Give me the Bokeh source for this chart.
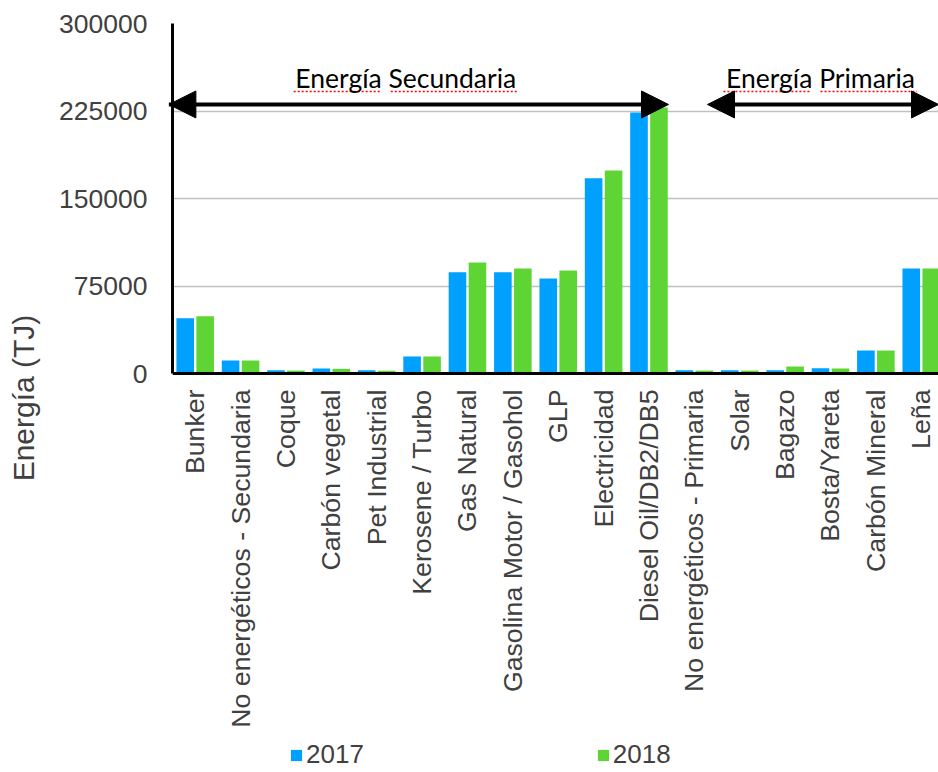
import numpy as np
from bokeh.plotting import figure
from bokeh.models import (ColumnDataSource, Range1d, FixedTicker, BasicTickFormatter,
                          Legend, LegendItem, Arrow, NormalHead, Label)
from bokeh.embed import file_html
from bokeh.resources import INLINE

categories = ["Bunker", "No energéticos - Secundaria", "Coque", "Carbón vegetal",
              "Pet Industrial", "Kerosene / Turbo", "Gas Natural",
              "Gasolina Motor / Gasohol", "GLP", "Electricidad", "Diesel Oil/DB2/DB5",
              "No energéticos - Primaria", "Solar", "Bagazo", "Bosta/Yareta",
              "Carbón Mineral", "Leña"]
v2017 = [47400, 11100, 2800, 4300, 2800, 14600, 86800, 86800, 81400, 167400, 223700,
         2800, 2800, 2800, 4500, 19700, 90000]
v2018 = [49100, 11100, 2500, 4000, 2400, 14600, 95100, 90000, 88300, 174000, 228000,
         2500, 2500, 6000, 4300, 19700, 90000]
y_ticks = [0, 75000, 150000, 225000, 300000]
series_names = ["2017", "2018"]
group_labels = ["Energía Secundaria", "Energía Primaria"]

BLUE = "#00A1FE"
GREEN = "#5FD535"
TXT = "#404040"

idx = np.arange(len(categories))
src = ColumnDataSource(dict(x17=idx - 0.22, x18=idx + 0.22, v17=v2017, v18=v2018))

# frame runs down to the window bottom; value 0 sits at 350 px below the top of the scale
p = figure(width=938, height=772, output_backend="svg", toolbar_location=None,
           x_range=Range1d(-0.5, 16.38), y_range=Range1d(-342000, 300000),
           min_border_left=172, min_border_top=23, min_border_right=0, min_border_bottom=0)
p.outline_line_color = None
p.background_fill_color = "white"

r17 = p.vbar(x="x17", top="v17", width=0.388, source=src, fill_color=BLUE, line_color=None)
r18 = p.vbar(x="x18", top="v18", width=0.388, source=src, fill_color=GREEN, line_color=None)

# x axis drawn at value 0
p.xaxis.fixed_location = 0
p.xaxis.ticker = FixedTicker(ticks=list(range(len(categories))))
p.xaxis.major_label_overrides = {i: c for i, c in enumerate(categories)}
p.xaxis.major_label_orientation = np.pi / 2
p.xaxis.major_label_text_font = "Liberation Sans"
p.xaxis.major_label_text_font_size = "26.7px"
p.xaxis.major_label_text_color = TXT
p.xaxis.major_label_standoff = 16
p.xaxis.major_tick_line_color = None
p.xaxis.major_tick_out = 0
p.xaxis.major_tick_in = 0
p.xaxis.minor_tick_line_color = None
p.xaxis.axis_line_color = "black"
p.xaxis.axis_line_width = 3

p.yaxis.bounds = (0, 300000)
p.yaxis.ticker = FixedTicker(ticks=y_ticks)
p.yaxis.formatter = BasicTickFormatter(use_scientific=False)
p.yaxis.major_label_text_font = "Liberation Sans"
p.yaxis.major_label_text_font_size = "26.5px"
p.yaxis.major_label_text_color = TXT
p.yaxis.major_label_standoff = 19
p.yaxis.major_tick_line_color = None
p.yaxis.minor_tick_line_color = None
p.yaxis.axis_line_color = "black"
p.yaxis.axis_line_width = 3
p.yaxis.axis_label = "Energía (TJ)"
p.yaxis.axis_label_text_font = "Liberation Sans"
p.yaxis.axis_label_text_font_size = "30px"
p.yaxis.axis_label_text_font_style = "normal"
p.yaxis.axis_label_text_color = TXT
p.yaxis.axis_label_standoff = 16

p.xgrid.grid_line_color = None
p.ygrid.grid_line_color = "#C0C0C0"
p.ygrid.grid_line_width = 1.5
p.ygrid.ticker = FixedTicker(ticks=y_ticks)

# group arrows
arrow_y = 230600
for xs, xe in [(-0.58, 10.43), (11.29, 16.38)]:
    p.add_layout(Arrow(x_start=xs, y_start=arrow_y, x_end=xe, y_end=arrow_y,
                       line_color="black", line_width=4,
                       start=NormalHead(size=27, fill_color="black", line_color="black"),
                       end=NormalHead(size=27, fill_color="black", line_color="black")))

for lab, xc in zip(group_labels, [4.64, 13.78]):
    p.add_layout(Label(x=xc, y=253700, text=lab, text_align="center", text_baseline="middle",
                       text_font="Lato", text_font_size="26.5px", text_color="black"))
# spell-check style underlines
for x0, x1 in [(2.17, 4.09), (4.31, 7.10), (11.64, 13.56), (13.78, 15.91)]:
    p.line([x0, x1], [241700, 241700], line_color="red", line_width=1.5, line_dash="2 2")

legend = Legend(items=[LegendItem(label=series_names[0], renderers=[r17]),
                       LegendItem(label=series_names[1], renderers=[r18])],
                orientation="horizontal", spacing=232, glyph_width=14, glyph_height=14,
                label_standoff=3, label_text_font="Liberation Sans",
                label_text_font_size="26px", label_height=26, label_text_color=TXT,
                padding=0, margin=0, border_line_color=None, background_fill_alpha=0,
                location=(117, 2))
p.add_layout(legend, "center")

open("out.html", "w").write(file_html(p, INLINE))
